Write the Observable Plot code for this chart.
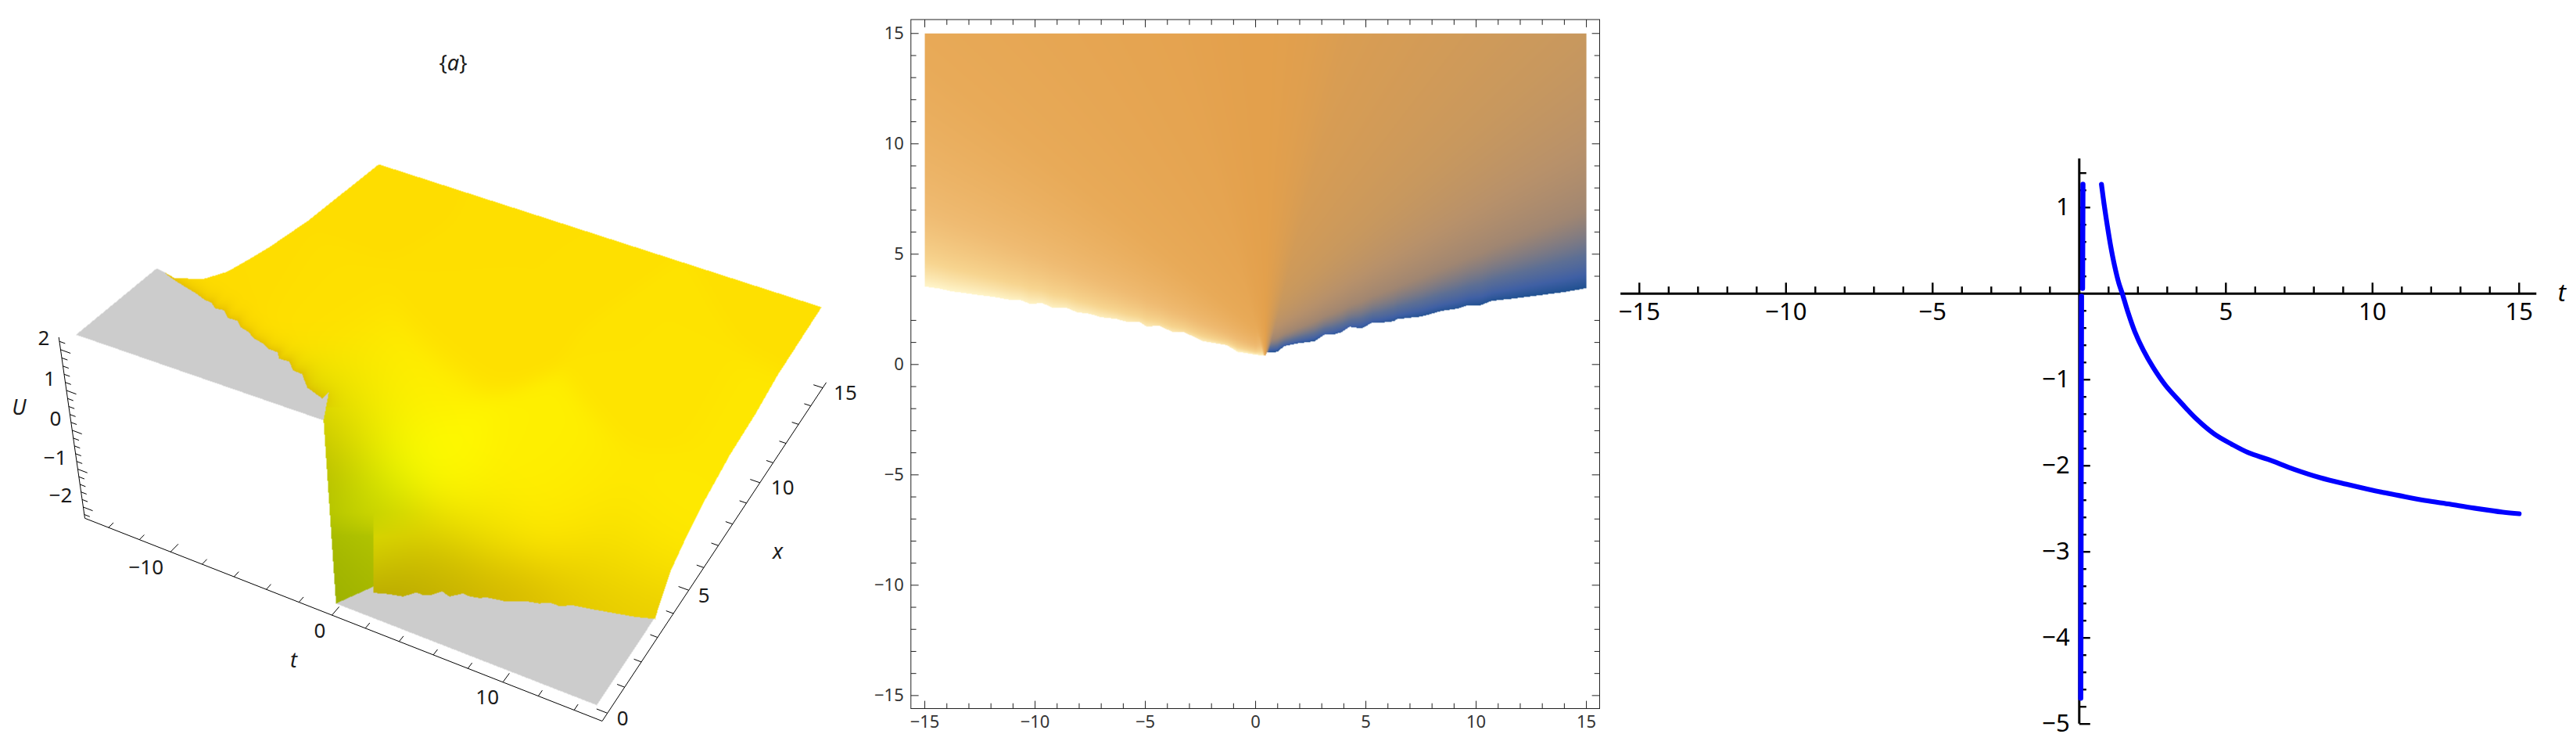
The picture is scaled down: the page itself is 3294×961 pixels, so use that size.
<!DOCTYPE html>
<html><head><meta charset="utf-8">
<script src="https://cdn.jsdelivr.net/npm/d3@7"></script>
<script src="https://cdn.jsdelivr.net/npm/@observablehq/plot@0.6"></script>
<style>html,body{margin:0;background:#fff;width:3294px;height:961px;overflow:hidden}
#c{position:relative;width:3294px;height:961px}#c>*{position:absolute}
svg{font-family:"Noto Sans",sans-serif}
</style></head><body><div id="c"></div>
<script>
// Lower boundary of the region where U is defined
const edgeLeftT=[-15,-14.36,-13.83,-12.83,-11.82,-11.05,-10.64,-10.22,-9.69,-9.16,-8.57,-8.1,-7.51,-7.03,-6.32,-5.85,-5.26,-4.96,-4.37,-3.78,-3.25,-2.42,-1.3,-.83,.18];
const edgeLeftY=[3.53,3.44,3.32,3.18,3.05,2.91,2.91,2.74,2.78,2.55,2.56,2.37,2.29,2.14,2.06,1.94,1.93,1.72,1.75,1.48,1.47,1.06,.87,.57,.41];
const edgeRightT=[.44,.51,.98,1.3,1.95,2.66,3.13,3.49,3.9,4.26,4.79,5.32,5.61,6.26,6.44,7.51,8.45,9.16,9.63,10.22,10.7,11.64,12.83,14,15];
const edgeRightY=[.41,.54,.57,.83,.96,1.05,1.35,1.35,1.46,1.71,1.63,1.91,1.88,1.96,2.06,2.17,2.43,2.53,2.69,2.69,2.88,2.98,3.13,3.28,3.46];
// 2D cross-section U(t)
const curveT=[.757,.845,.952,1.068,1.2,1.352,1.468,1.645,1.894,2.18,2.534,2.934,3.352,4,4.6,5.2,5.78,6.445,7.334,8.22,9.11,10,10.89,11.78,12.67,13.56,14.44,15];
const curveU=[1.27,1.043,.8,.558,.33,.118,0,-.2,-.442,-.654,-.866,-1.063,-1.224,-1.458,-1.63,-1.75,-1.85,-1.927,-2.042,-2.139,-2.215,-2.285,-2.345,-2.403,-2.448,-2.497,-2.539,-2.557];
const nearUpperT=[.125,.118,.112], nearUpperU=[1.27,.6,.06];
const nearLowerT=[.077,.07,.065,.06,.055,.05], nearLowerU=[-.03,-1,-2,-3,-4,-4.7];
// 3D surface: boundary curves and clip planes
const clipTop=2.27, clipBottom=-2.2;
const sideMinusX=[4.24,5.5,6.6,7.64,8.72,10.78,14.94], sideMinusU=[1.67,1.07,.75,.59,.44,.24,.06];
const sidePlusX=[3.44,3.87,4.33,5.3,6.47,8.22,10.07,11.58,15.06], sidePlusU=[-2.16,-1.82,-1.48,-1.17,-.89,-.62,-.5,-.3,-.14];
const topCorners=[[-15,.04],[-14.94,3.49],[-1.29,1.16],[-.34,.15]];
const bottomCorners=[[-.11,0],[.93,1],[1.15,.81],[14.96,0],[14.93,3.48]];
// Viewing camera of the 3D box
const cam0=[.205107,.328132,-.017399,.424412], cam1=[.062111,-.203091,-.118651,.662718], cam2=[-.029474,.140391,-.025413];
const boxT=[-15.55,15.55], boxX=[-.3,15.3], boxU=[-2.3,2.3];
// Surface shading samples on the picture plane of the 3D panel
const shadeX=[484,700,1040,300,600,850,960,407,450,463,513,447,512,480,700,850,580,680,747,480,513,580,647,713,513,547,580,647,713,763,800,827,767,767,800,833,417,423,427,433,463,470,453,480,437,433,425];
const shadeY=[212,290,395,345,400,500,560,413,480,513,513,547,587,560,620,660,613,613,647,680,680,680,680,680,747,730,743,753,767,773,780,763,747,713,713,713,547,613,713,763,740,697,647,623,587,540,510];
const shadeC=["#ffdd00","#ffe000","#ffe000","#ffdd00","#ffe000","#ffe400","#ffe800","#ffe000","#ffe800","#fff000","#ffee00","#f0f000","#ffff00","#f8ff00","#fff000","#ffea00","#fff800","#fff000","#ffe800","#d8d400","#e0d800","#f0e400","#f5e400","#ffe400","#b0a000","#c8b800","#c8b000","#d4b800","#dcc000","#e0c400","#e8cc00","#ecd000","#e8d000","#f5e000","#fae400","#ffe800","#8c8c00","#9aa400","#98ac00","#96ae00","#aebc00","#b8c800","#bcd800","#d8f000","#c8c800","#e8e400","#f0e800"];
// Density plot colour function
const densityLevels=[-1,-.75,-.5,-.25,0,.23,.35,.5,.7,.85,1];
const densityColors=["#fff6cc","#f7d590","#efbb72","#e8aa58","#e3a04c","#c8985e","#b8916a","#a08672","#5d6f95","#4060a5","#1f5090"];

const project=(t,x,U)=>{const a=t/10,b=x/10,c=U/2,w=cam2[0]*a+cam2[1]*b+cam2[2]*c+1;
 return [1000*(cam0[0]*a+cam0[1]*b+cam0[2]*c+cam0[3])/w,1000*(cam1[0]*a+cam1[1]*b+cam1[2]*c+cam1[3])/w];};
const p2=a=>project(...a);
const minus=s=>String(s).replace("-","−");

// ---- panel A
const jl=edgeLeftT.map((t,i)=>[t,edgeLeftY[i],clipTop]).slice(1,-2);
const jr=edgeRightT.map((t,i)=>[t,edgeRightY[i],clipBottom]).slice(3);
const tc=topCorners.map(q=>[...q,clipTop]), bc=bottomCorners.map(q=>[...q,clipBottom]);
const sideL=sideMinusX.map((x,i)=>[-15,x,sideMinusU[i]]), sideR=sidePlusX.map((x,i)=>[15,x,sidePlusU[i]]);
const greyA=[tc[0],tc[1],...jl,tc[2],tc[3]].map(p2);
const greyB=[bc[0],bc[1],bc[2],...jr,bc[4],bc[3]].map(p2);
const yellow=[...jl,tc[2],tc[3],bc[0],bc[1],bc[2],...jr,...sideR,...sideL.slice().reverse()].map(p2);
const jagScreen=jl.map(p2);
const rgbC=shadeC.map(c=>d3.rgb(c));
const sig2=2*40*40;
function distJag(X,Y){let m=1e9;for(let i=1;i<jagScreen.length;i++){const [a,b]=jagScreen[i-1],[c,d]=jagScreen[i];const u=c-a,v=d-b,l=u*u+v*v;let s=((X-a)*u+(Y-b)*v)/l;s=s<0?0:s>1?1:s;const e=(a+s*u-X)**2+(b+s*v-Y)**2;if(e<m)m=e;}return Math.sqrt(m);}
function shade(X,Y){let w=0,r=0,g=0,b=0;const side=Y<655?1:Math.max(0,1-(Y-655)/30);
 for(let i=0;i<shadeX.length;i++){const d=(shadeX[i]-X)**2+(shadeY[i]-Y)**2;let k=Math.exp(-d/sig2)+1e-9;if((shadeX[i]<476.7)!==(X<476.7))k*=side;w+=k;r+=k*rgbC[i].r;g+=k*rgbC[i].g;b+=k*rgbC[i].b;}
 r/=w;g/=w;b/=w;const f=Y<520?.6*Math.exp(-distJag(X,Y)/9):0;
 return `rgb(${(r+f*(216-r))|0},${(g+f*(176-g))|0},${(b*(1-f))|0})`;}
const surfaceFill=(X,Y)=>{const q=[X,Y];if(d3.polygonContains(yellow,q))return shade(X,Y);if(d3.polygonContains(greyA,q)||d3.polygonContains(greyB,q))return "#cccccc";return null;};
const tTicks=d3.range(-14,15,2), xTicks=d3.range(0,16,1), uTicks=d3.range(-2.2,2.21,.2).map(v=>+v.toFixed(1));
const link=(pts,opt={})=>Plot.link(pts,{x1:d=>d[0][0],y1:d=>d[0][1],x2:d=>d[1][0],y2:d=>d[1][1],stroke:"#000",strokeWidth:1,...opt});
const seg=(a,b)=>[project(...a),project(...b)];
const ticks3=[...tTicks.map(t=>seg([t,boxX[0],boxU[0]],[t,boxX[0]+(t%10===0?.35:.22),boxU[0]])),
 ...xTicks.map(x=>seg([boxT[1],x,boxU[0]],[boxT[1]-(x%5===0?.6:.42),x,boxU[0]])),
 ...uTicks.map(u=>seg([boxT[0],boxX[0],u],[boxT[0]+(Number.isInteger(u)?.62:.36),boxX[0],u]))];
const axes3=[seg([boxT[0],boxX[0],boxU[0]],[boxT[1],boxX[0],boxU[0]]),seg([boxT[1],boxX[0],boxU[0]],[boxT[1],boxX[1],boxU[0]]),seg([boxT[0],boxX[0],boxU[0]],[boxT[0],boxX[0],boxU[1]])];
const labels3=[{v:-10,q:project(-10,boxX[0],boxU[0]),a:"end",dx:-9,dy:20},{v:0,q:project(0,boxX[0],boxU[0]),a:"end",dx:-8,dy:21},{v:10,q:project(10,boxX[0],boxU[0]),a:"end",dx:-5,dy:20},
 ...[0,5,10,15].map(v=>({v,q:project(boxT[1],v,boxU[0]),a:"start",dx:v>5?14:12,dy:7})),
 ...[2,1,0,-1,-2].map(v=>({v,q:project(boxT[0],boxX[0],v),a:"end",dx:-14,dy:-14}))];
const c=document.getElementById("c");
function place(el,l,t){el.style.left=l+"px";el.style.top=t+"px";c.append(el);}
const font=s=>({fontSize:s,fill:"#1a1a1a",stroke:"none"});
const panelA=Plot.plot({width:1100,height:961,margin:0,style:{background:"transparent"},x:{domain:[0,1100],range:[0,1100],axis:null},y:{domain:[0,961],range:[0,961],axis:null},color:{type:"identity"},marks:[
 Plot.raster({x1:60,x2:1080,y1:190,y2:930,fill:surfaceFill,pixelSize:1}),
 link(axes3),link(ticks3),
 ...labels3.map(l=>Plot.text([l],{x:d=>d.q[0],y:d=>d.q[1],text:d=>minus(d.v),textAnchor:l.a,dx:l.dx,dy:l.dy,...font(26)})),
 Plot.text(["t"],{x:[375],y:[844],text:d=>d,fontStyle:"italic",...font(27)}),
 Plot.text(["x"],{x:[994],y:[705],text:d=>d,fontStyle:"italic",...font(27)}),
 Plot.text(["U"],{x:[24],y:[521],text:d=>d,fontStyle:"italic",...font(27)}),
 Plot.text(["{a}"],{x:[579],y:[81],text:d=>d,...font(27)})
]});
for(const el of panelA.querySelectorAll("text")){if(el.textContent==="{a}"){el.innerHTML='{<tspan font-style="italic">a</tspan>}';}}
place(panelA,0,0);

// ---- panel B
const allT=[...edgeLeftT,...edgeRightT], allY=[...edgeLeftY,...edgeRightY];
const edgeAt=t=>{let i=d3.bisectRight(allT,t);i=Math.max(1,Math.min(allT.length-1,i));const a=(t-allT[i-1])/(allT[i]-allT[i-1]);return allY[i-1]+a*(allY[i]-allY[i-1]);};
const densityFill=(t,y)=>{const e=edgeAt(t);if(y<e)return NaN;const es=.41+.205*Math.abs(t),qs=Math.min(1,es/y);const q=Math.min(1,(es+(e-es)*qs*qs*qs)/y);const w=Math.max(-1,Math.min(1,(t-.45)/(.25*y)));return q*w;};
const ax=d3.range(-15,16), ay=d3.range(-15,16).filter(v=>v!==3);
const lo=-15.63, hi=15.6, yLo=-15.59, yHi=15.63;
const len=v=>(v%5===0?.35:.24);
const panelB=Plot.plot({width:960,height:961,marginLeft:64.3,marginRight:15,marginTop:24.5,marginBottom:56,style:{background:"transparent"},
 x:{domain:[lo,hi],axis:null},y:{domain:[yLo,yHi],axis:null},color:{type:"linear",domain:densityLevels,range:densityColors,clamp:true},marks:[
 Plot.raster({x1:-15,x2:15,y1:.3,y2:15,fill:densityFill,pixelSize:1}),
 Plot.frame({stroke:"#222",strokeWidth:1}),
 Plot.link(ax,{x1:d=>d,x2:d=>d,y1:yLo,y2:d=>yLo+len(d),stroke:"#222"}),
 Plot.link(ax,{x1:d=>d,x2:d=>d,y1:yHi,y2:d=>yHi-len(d),stroke:"#222"}),
 Plot.link(ay,{y1:d=>d,y2:d=>d,x1:lo,x2:d=>lo+len(d),stroke:"#222"}),
 Plot.link(ay,{y1:d=>d,y2:d=>d,x1:hi,x2:d=>hi-len(d),stroke:"#222"}),
 Plot.text(d3.range(-15,16,5),{x:d=>d,y:yLo,dy:17,text:minus,...font(22),fill:"#333"}),
 Plot.text(d3.range(-15,16,5),{y:d=>d,x:lo,dx:-9,textAnchor:"end",text:minus,...font(22),fill:"#333"})
]});
place(panelB,1100,0);

// ---- panel C
const px=X=>(X-2658.3)/37.5, py=Y=>(374.7-Y)/110;
const xt=d3.range(-15,16).filter(v=>v), yt=d3.range(-50,15,2).map(v=>v/10).filter(v=>v);
const zip=(a,b)=>a.map((t,i)=>[t,b[i]]);
const panelC=Plot.plot({width:1244,height:781,margin:0,style:{background:"transparent"},x:{domain:[px(2050),px(3294)],axis:null},y:{domain:[py(961),py(180)],axis:null},marks:[
 Plot.ruleY([0],{x1:-15.63,x2:15.6,stroke:"#000",strokeWidth:3}),
 Plot.ruleX([0],{y1:-5,y2:1.566,stroke:"#000",strokeWidth:3}),
 Plot.link(xt,{x1:d=>d,x2:d=>d,y1:0,y2:d=>d%5===0?.127:.082,stroke:"#000",strokeWidth:2.4}),
 Plot.link(yt,{y1:d=>d,y2:d=>d,x1:0,x2:d=>Number.isInteger(d)?.373:.24,stroke:"#000",strokeWidth:2.4}),
 Plot.line(zip(curveT,curveU),{x:"0",y:"1",stroke:"#0000ff",strokeWidth:6.2,curve:"catmull-rom"}),
 Plot.line(zip(nearUpperT,nearUpperU),{x:"0",y:"1",stroke:"#0000ff",strokeWidth:6.5}),
 Plot.line(zip(nearLowerT,nearLowerU),{x:"0",y:"1",stroke:"#0000ff",strokeWidth:6.5}),
 Plot.text(d3.range(-15,16,5).filter(v=>v),{x:d=>d,y:0,dy:24,text:minus,...font(31),fill:"#000"}),
 Plot.text([-5,-4,-3,-2,-1,1],{y:d=>d,x:0,dx:-12,textAnchor:"end",text:minus,...font(31),fill:"#000"}),
 Plot.text(["t"],{x:[15.6],y:[0],dx:32,text:d=>d,fontStyle:"italic",...font(31),fill:"#000"})
]});
place(panelC,2050,180);
</script></body></html>
